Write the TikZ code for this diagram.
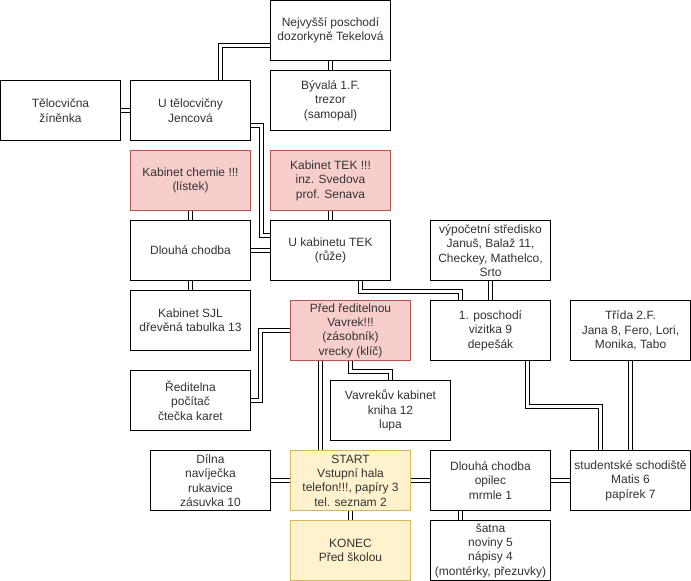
\documentclass[tikz,border=0pt]{standalone}
\usepackage{fontspec}
\setmainfont{Liberation Sans}
\usetikzlibrary{backgrounds}
\definecolor{alertfill}{HTML}{F8CECC}
\definecolor{alertline}{HTML}{B85450}
\definecolor{gatefill}{HTML}{FFF2CC}
\definecolor{gateline}{HTML}{D6B656}
\begin{document}
\begin{tikzpicture}[x=1pt,y=-1pt,
  room/.style={draw,fill=white,line width=1pt,minimum width=120pt,minimum height=60pt,
    inner sep=0pt,align=center,text=black!80,font=\fontsize{12}{14.4}\selectfont},
  alert/.style={room,fill=alertfill,draw=alertline},
  gate/.style={room,fill=gatefill,draw=gateline},
  link/.style={double,double distance=3pt,line width=1pt}]
  \useasboundingbox (-0.5,-0.5) rectangle (690.5,580.5);
  % rooms
  \node[room] (nej) at (330,30) {Nejvyšší poschodí\\dozorkyně Tekelová};
  \node[room] (byv) at (330,100) {Bývalá 1.F.\\trezor\\(samopal)};
  \node[room] (tel) at (60,110) {Tělocvična\\žíněnka};
  \node[room] (jen) at (190,110) {U tělocvičny\\Jencová};
  \node[alert] (che) at (190,180) {Kabinet chemie !!!\\(lístek)};
  \node[alert] (tek) at (330,180) {Kabinet TEK !!!\\inz. Svedova\\prof. Senava};
  \node[room] (dlo) at (190,250) {Dlouhá chodba};
  \node[room] (ukt) at (330,250) {U kabinetu TEK\\(růže)};
  \node[room] (vyp) at (490,250) {výpočetní středisko\\Januš, Balaž 11,\\Checkey, Mathelco,\\Srto};
  \node[room] (sjl) at (190,320) {Kabinet SJL\\dřevěná tabulka 13};
  \node[alert] (pred) at (350,330) {Před ředitelnou\\Vavrek!!!\\(zásobník)\\vrecky (klíč)};
  \node[room] (pos) at (490,330) {1. poschodí\\vizitka 9\\depešák};
  \node[room] (tri) at (630,330) {Třída 2.F.\\Jana 8, Fero, Lori,\\Monika, Tabo};
  \node[room] (red) at (190,400) {Ředitelna\\počítač\\čtečka karet};
  \node[room] (vav) at (390,410) {Vavrekův kabinet\\kniha 12\\lupa};
  \node[room] (dil) at (210,480) {Dílna\\navíječka\\rukavice\\zásuvka 10};
  \node[gate] (start) at (350,480) {START\\Vstupní hala\\telefon!!!, papíry 3\\tel. seznam 2};
  \node[room] (opi) at (490,480) {Dlouhá chodba\\opilec\\mrmle 1};
  \node[room] (sch) at (630,480) {studentské schodiště\\Matis 6\\papírek 7};
  \node[gate] (kon) at (350,550) {KONEC\\Před školou};
  \node[room] (sat) at (490,550) {šatna\\noviny 5\\nápisy 4\\(montérky, přezuvky)};
  % corridors
  \begin{scope}[on background layer]
    \draw[link] ([yshift=-15pt]nej.west) -| ([xshift=30pt]jen.north);
    \draw[link] (nej.south) -- (byv.north);
    \draw[link] (tel.east) -- (jen.west);
    \draw[link] ([yshift=-15pt]jen.east) -- ++(10,0) |- ([yshift=15pt]ukt.west);
    \draw[link] (che.south) -- (dlo.north);
    \draw[link] (tek.south) -- (ukt.north);
    \draw[link] (dlo.east) -- (ukt.west);
    \draw[link] (dlo.south) -- (sjl.north);
    \draw[link] ([xshift=30pt]ukt.south) -- ++(0,10) -| ([xshift=-30pt]pos.north);
    \draw[link] (vyp.south) -- (pos.north);
    \draw[link] (pred.west) -- ++(-30,0) |- (red.east);
    \draw[link] (pred.south) -- ++(0,10) -| (vav.north);
    \draw[link] ([xshift=-30pt]pred.south) -- ([xshift=-30pt]start.north);
    \draw[link] ([xshift=37pt]pos.south) -- ++(0,45) -| ([xshift=-30pt]sch.north);
    \draw[link] (tri.south) -- (sch.north);
    \draw[link] (dil.east) -- (start.west);
    \draw[link] (start.east) -- (opi.west);
    \draw[link] (start.south) -- (kon.north);
    \draw[link] (opi.east) -- (sch.west);
    \draw[link] ([xshift=-30pt]opi.south) -- ([xshift=-30pt]sat.north);
  \end{scope}
\end{tikzpicture}
\end{document}
